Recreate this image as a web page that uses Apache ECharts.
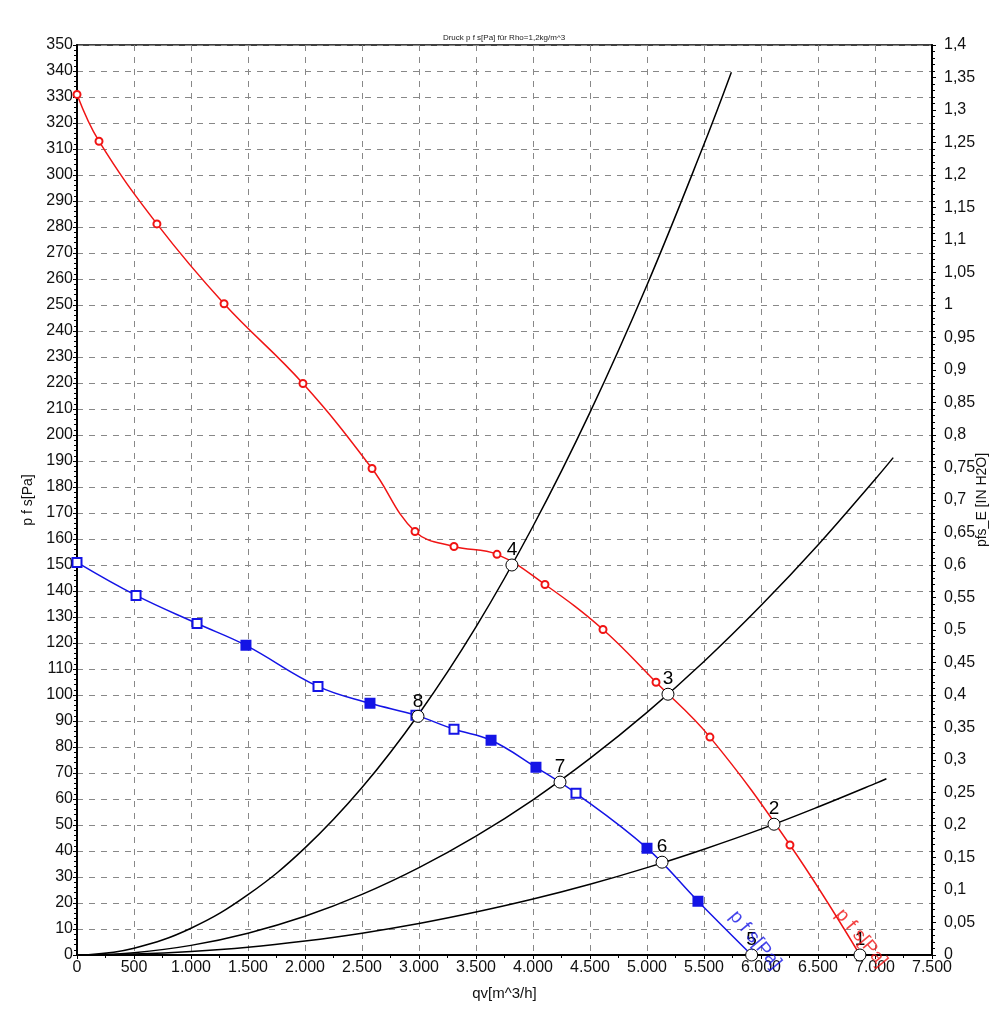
<!DOCTYPE html>
<html><head><meta charset="utf-8">
<script src="https://cdn.jsdelivr.net/npm/echarts@6/dist/echarts.min.js"></script>
<style>html,body{margin:0;padding:0;background:#fff}#c{width:1008px;height:1024px}</style>
</head><body><div id="c"></div>
<script>
// ---- data ----
const chartTitle = 'Druck p f s[Pa] für Rho=1,2kg/m^3';
const xName = 'qv[m^3/h]';
const yLeftName = 'p f s[Pa]';
const yRightName = 'pfs_E [IN H2O]';
const curveLabel = 'p f s[Pa]';

const qRed = [0, 193, 701, 1290, 1982, 2588, 2965, 3307, 3684, 4105, 4614, 5079, 5552, 6254, 6868];
const pRed = [331, 313, 281.2, 250.5, 219.8, 187.1, 162.9, 157.1, 154.1, 142.5, 125.2, 104.9, 83.8, 42.3, 0];

const qBlue = [0, 518, 1053, 1482, 2114, 2570, 2973, 3307, 3632, 4026, 4377, 5000, 5447, 5918];
const pBlue = [151, 138.3, 127.5, 119.1, 103.3, 96.8, 92.2, 86.8, 82.6, 72.2, 62.2, 41.1, 20.7, 0];

const qSysA = [100, 500, 1000, 1500, 2000, 2500, 3000, 3500, 4000, 4500, 5000, 5500, 5740];
const pSysA = [0.1, 2.6, 10.3, 23.2, 41.2, 64.4, 92.8, 126.2, 164.9, 208.7, 257.7, 311.8, 339.5];

const qSysB = [100, 500, 1000, 1500, 2000, 2500, 3000, 3500, 4000, 4500, 5000, 5500, 6000, 6500, 7000, 7160];
const pSysB = [0.04, 0.9, 3.7, 8.4, 14.9, 23.3, 33.6, 45.7, 59.7, 75.6, 93.3, 112.9, 134.4, 157.7, 182.9, 191.3];

const qSysC = [100, 500, 1000, 1500, 2000, 2500, 3000, 3500, 4000, 4500, 5000, 5500, 6000, 6500, 7000, 7100];
const pSysC = [0.01, 0.34, 1.35, 3.0, 5.4, 8.4, 12.1, 16.5, 21.5, 27.2, 33.6, 40.7, 48.4, 56.9, 65.9, 67.8];

const opNames = ['1', '2', '3', '4', '5', '6', '7', '8'];
const opQ = [6868, 6114, 5184, 3815, 5918, 5132, 4237, 2991];
const opP = [0, 50.3, 100.3, 150, 0, 35.7, 66.5, 91.8];

// ---- styles ----
const FONT = 'Liberation Sans, Arial, sans-serif';
const RED = '#f01414';
const BLUE = '#1414e6';
const blueFilled = [0, 0, 0, 1, 0, 1, 0, 0, 1, 1, 0, 1, 1, 0];

const zip = (a, b) => a.map((v, i) => [v, b[i]]);

const redData = qRed.map((q, i) => ({
  value: [q, pRed[i]],
  symbolSize: i === qRed.length - 1 ? 0 : 7
}));
const blueData = qBlue.map((q, i) => ({
  value: [q, pBlue[i]],
  symbolSize: i === qBlue.length - 1 ? 0 : 9,
  itemStyle: { color: blueFilled[i] ? BLUE : '#fff', borderColor: BLUE, borderWidth: 2 }
}));

const sysSeries = (q, p) => ({
  type: 'line', data: zip(q, p), smooth: 0.4, symbol: 'none',
  lineStyle: { color: '#000', width: 1.5 }, z: 3, silent: true
});

const option = {
  animation: false,
  backgroundColor: '#fff',
  title: {
    text: chartTitle, left: 'center', top: 29,
    textStyle: { fontFamily: FONT, fontSize: 8, fontWeight: 'normal', color: '#222' }
  },
  grid: { left: 77, right: 76, top: 45, bottom: 69, show: true, borderColor: '#000', borderWidth: 1.5 },
  xAxis: {
    type: 'value', min: 0, max: 7500, interval: 500,
    name: xName, nameLocation: 'middle', nameGap: 31,
    nameTextStyle: { fontFamily: FONT, fontSize: 15, color: '#111' },
    axisLine: { lineStyle: { color: '#000', width: 2 } },
    axisTick: { show: true, length: 4, lineStyle: { color: '#000' } },
    minorTick: { show: true, splitNumber: 2, length: 3, lineStyle: { color: '#000' } },
    axisLabel: {
      fontFamily: FONT, fontSize: 16, color: '#111', margin: 5,
      formatter: v => v >= 1000 ? Math.floor(v / 1000) + '.' + String(v % 1000).padStart(3, '0') : String(v)
    },
    splitLine: { show: true, lineStyle: { color: '#888', type: [6, 6], width: 1 } }
  },
  yAxis: [{
    type: 'value', min: 0, max: 350, interval: 10,
    name: yLeftName, nameLocation: 'middle', nameGap: 42, nameMoveOverlap: false,
    nameTextStyle: { fontFamily: FONT, fontSize: 14, color: '#111' },
    axisLine: { show: true, lineStyle: { color: '#000', width: 2 } },
    axisTick: { show: true, length: 4, lineStyle: { color: '#000' } },
    minorTick: { show: true, splitNumber: 5, length: 3, lineStyle: { color: '#000' } },
    axisLabel: { fontFamily: FONT, fontSize: 16, color: '#111', margin: 4 },
    splitLine: { show: true, lineStyle: { color: '#888', type: [6, 6], width: 1 } }
  }, {
    type: 'value', min: 0, max: 1.4, interval: 0.05, position: 'right',
    name: yRightName, nameLocation: 'middle', nameGap: 43, nameRotate: 90, nameMoveOverlap: false,
    nameTextStyle: { fontFamily: FONT, fontSize: 14, color: '#111' },
    axisLine: { show: true, lineStyle: { color: '#000', width: 2 } },
    axisTick: { show: true, length: 4, lineStyle: { color: '#000' } },
    minorTick: { show: true, splitNumber: 5, length: 3, lineStyle: { color: '#000' } },
    axisLabel: {
      fontFamily: FONT, fontSize: 16, color: '#111', margin: 12,
      formatter: v => String(Math.round(v * 100) / 100).replace('.', ',')
    },
    splitLine: { show: false }
  }],
  series: [
    sysSeries(qSysA, pSysA),
    sysSeries(qSysB, pSysB),
    sysSeries(qSysC, pSysC),
    {
      type: 'line', data: redData, smooth: 0.4,
      symbol: 'emptyCircle', lineStyle: { color: RED, width: 1.5 },
      itemStyle: { color: RED, borderColor: RED, borderWidth: 1.5 }, z: 4
    },
    {
      type: 'line', data: blueData, smooth: 0.4,
      symbol: 'rect', lineStyle: { color: BLUE, width: 1.5 }, z: 4
    },
    {
      type: 'scatter', z: 6, symbol: 'circle', symbolSize: 12,
      data: opQ.map((q, i) => ({ value: [q, opP[i]], name: opNames[i] })),
      itemStyle: { color: '#fff', borderColor: '#000', borderWidth: 1, opacity: 1 },
      label: {
        show: true, position: 'top', distance: -1, formatter: p => p.name,
        fontFamily: FONT, fontSize: 19, color: '#000', textBorderWidth: 0
      }
    },
    {
      type: 'scatter', z: 7, symbolSize: 0, silent: true,
      data: [
        { value: [5950, 5.8], label: { color: BLUE } },
        { value: [6880, 6.5], label: { color: RED } }
      ],
      label: {
        show: true, position: 'inside', rotate: -50, formatter: curveLabel,
        fontFamily: FONT, fontSize: 19, textBorderWidth: 0
      }
    }
  ]
};
const chart = echarts.init(document.getElementById('c'), null, { renderer: 'canvas' });
chart.setOption(option);
</script></body></html>
